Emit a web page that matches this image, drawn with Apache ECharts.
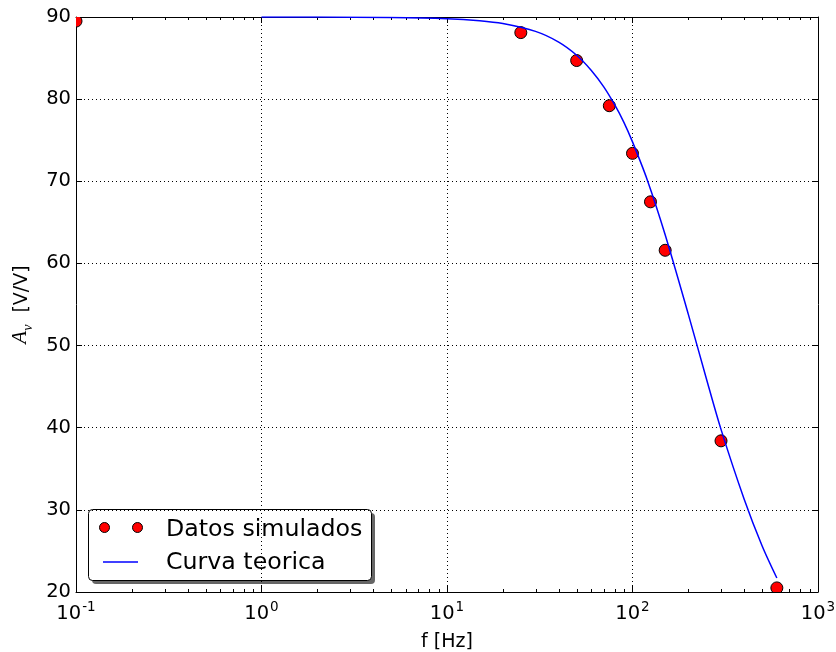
<!DOCTYPE html>
<html>
<head>
<meta charset="utf-8">
<script src="https://cdn.jsdelivr.net/npm/echarts@6/dist/echarts.min.js"></script>
<style>
  html, body { margin: 0; padding: 0; background: #ffffff; }
  #chart { width: 836px; height: 652px; }
</style>
</head>
<body>
<div id="chart"></div>
<script>
// Simulated gain measurements
const dataF  = [0.1, 25, 50, 75, 100, 125, 150, 300, 600];
const dataAv = [89.5, 88.1, 84.7, 79.2, 73.4, 67.5, 61.6, 38.4, 20.5];

// Theoretical gain curve
const curveF  = [1, 2, 5, 10, 15, 20, 30, 40, 50, 60, 70, 80, 90, 100, 120, 150, 200, 250, 300, 400, 500, 600];
const curveAv = [90.0, 89.99, 89.95, 89.8, 89.55, 89.2, 88.25, 86.95, 85.35, 83.5, 81.5, 79.35, 77.15, 74.8, 70.2, 63.5, 53.8, 46.0, 39.8, 31.3, 25.6, 21.7];

// Axis setup
const xMin = 0.1, xMax = 1000;
const yMin = 20, yMax = 90, yStep = 10;
const xMinorTicks = [];
[0.1, 1, 10, 100].forEach(function (d) {
  for (let k = 2; k <= 9; k++) xMinorTicks.push(+(d * k).toPrecision(3));
});

const legendDots = 'Datos simulados';
const legendLine = 'Curva teorica';

const chart = echarts.init(document.getElementById('chart'), null, { renderer: 'canvas' });

const tickFont = 'DejaVu Sans';
const mathFont = 'Liberation Serif';
const gridLine = { show: true, lineStyle: { color: '#000', type: [1, 3], width: 1 } };

function supLabel(v) {
  const e = Math.round(Math.log10(v));
  return '{b|10}{s|' + e + '}';
}

const option = {
  backgroundColor: '#ffffff',
  animation: false,
  grid: { left: 76, top: 17, width: 742, height: 575, containLabel: false, outerBoundsMode: 'none' },
  xAxis: [
    {
      type: 'log', logBase: 10, min: xMin, max: xMax, position: 'bottom',
      axisLine: { show: true, lineStyle: { color: '#000', width: 1 } },
      axisTick: { show: true, inside: true, length: 6, lineStyle: { color: '#000' } },
      splitLine: gridLine,
      axisLabel: {
        show: true, margin: 8, formatter: supLabel,
        rich: {
          b: { fontFamily: tickFont, fontSize: 19.5, color: '#000', verticalAlign: 'bottom', lineHeight: 24 },
          s: { fontFamily: tickFont, fontSize: 13.5, color: '#000', verticalAlign: 'top', lineHeight: 16, padding: [0, 0, 0, 1] }
        }
      },
      name: 'f [Hz]', nameLocation: 'middle', nameGap: 41,
      nameTextStyle: { fontFamily: tickFont, fontSize: 19, color: '#000' }
    },
    {
      type: 'log', logBase: 10, min: xMin, max: xMax, position: 'top',
      axisLine: { show: true, lineStyle: { color: '#000', width: 1 } },
      axisTick: { show: true, inside: true, length: 6, lineStyle: { color: '#000' } },
      splitLine: { show: false },
      axisLabel: { show: false }
    }
  ],
  yAxis: [
    {
      type: 'value', min: yMin, max: yMax, interval: yStep, position: 'left',
      axisLine: { show: true, lineStyle: { color: '#000', width: 1 } },
      axisTick: { show: true, inside: true, length: 6, lineStyle: { color: '#000' } },
      splitLine: gridLine,
      axisLabel: { show: true, margin: 5, fontFamily: tickFont, fontSize: 19.5, color: '#000' },
      name: '{a|A}{v|v}{t|  [V/V]}', nameLocation: 'middle', nameRotate: 90, nameGap: 36,
      nameTextStyle: {
        rich: {
          a: { fontFamily: mathFont, fontStyle: 'italic', fontSize: 21, color: '#000', verticalAlign: 'bottom', lineHeight: 22, padding: [0, 0, 4, 0] },
          v: { fontFamily: mathFont, fontStyle: 'italic', fontSize: 14, color: '#000', verticalAlign: 'bottom', lineHeight: 16 },
          t: { fontFamily: tickFont, fontSize: 19, color: '#000', verticalAlign: 'bottom', lineHeight: 22, padding: [0, 0, 4, 0] }
        }
      }
    },
    {
      type: 'value', min: yMin, max: yMax, interval: yStep, position: 'right',
      axisLine: { show: true, lineStyle: { color: '#000', width: 1 } },
      axisTick: { show: true, inside: true, length: 6, lineStyle: { color: '#000' } },
      splitLine: { show: false },
      axisLabel: { show: false }
    }
  ],
  series: [
    {
      // minor log ticks on bottom and top edges
      type: 'custom', name: 'minor', xAxisIndex: 0, yAxisIndex: 0, silent: true, clip: false,
      data: xMinorTicks.map(function (v) { return [v]; }),
      renderItem: function (params, api) {
        const b = api.coord([api.value(0), yMin]);
        const t = api.coord([api.value(0), yMax]);
        const st = { stroke: '#000', lineWidth: 1 };
        return {
          type: 'group',
          children: [
            { type: 'line', shape: { x1: Math.round(b[0]) + 0.5, y1: b[1], x2: Math.round(b[0]) + 0.5, y2: b[1] - 3 }, style: st },
            { type: 'line', shape: { x1: Math.round(t[0]) + 0.5, y1: t[1], x2: Math.round(t[0]) + 0.5, y2: t[1] + 3 }, style: st }
          ]
        };
      }
    },
    {
      type: 'custom', name: legendDots, xAxisIndex: 0, yAxisIndex: 0, clip: true, z: 3,
      data: dataF.map(function (f, i) { return [f, dataAv[i]]; }),
      renderItem: function (params, api) {
        const p = api.coord([api.value(0), api.value(1)]);
        return {
          type: 'circle',
          shape: { cx: p[0], cy: p[1], r: 6 },
          style: { fill: '#ff0000', stroke: '#000', lineWidth: 1 }
        };
      }
    },
    {
      type: 'line', name: legendLine, xAxisIndex: 0, yAxisIndex: 0, z: 4,
      data: curveF.map(function (f, i) { return [f, curveAv[i]]; }),
      showSymbol: false, symbol: 'none', smooth: 0.3, clip: true,
      lineStyle: { color: '#0000ff', width: 1.5 }
    }
  ],
  graphic: [
    {
      type: 'group', left: 88, top: 509, z: 100,
      children: [
        { type: 'rect', shape: { x: 4, y: 4, width: 283, height: 71, r: 4 }, style: { fill: '#666' } },
        { type: 'rect', shape: { x: 0.5, y: 0.5, width: 283, height: 71, r: 4 }, style: { fill: '#fff', stroke: '#000', lineWidth: 1 } },
        { type: 'circle', shape: { cx: 16.5, cy: 18.5, r: 5 }, style: { fill: '#ff0000', stroke: '#000', lineWidth: 1 } },
        { type: 'circle', shape: { cx: 49.5, cy: 18.5, r: 5 }, style: { fill: '#ff0000', stroke: '#000', lineWidth: 1 } },
        { type: 'line', shape: { x1: 15, y1: 53, x2: 50, y2: 53 }, style: { stroke: '#0000ff', lineWidth: 1.5 } },
        { type: 'text', x: 78, y: 20.5, style: { text: legendDots, fontFamily: tickFont, fontSize: 23.7, fill: '#000', verticalAlign: 'middle' } },
        { type: 'text', x: 78, y: 54, style: { text: legendLine, fontFamily: tickFont, fontSize: 23.7, fill: '#000', verticalAlign: 'middle' } }
      ]
    }
  ]
};

chart.setOption(option);
</script>
</body>
</html>
